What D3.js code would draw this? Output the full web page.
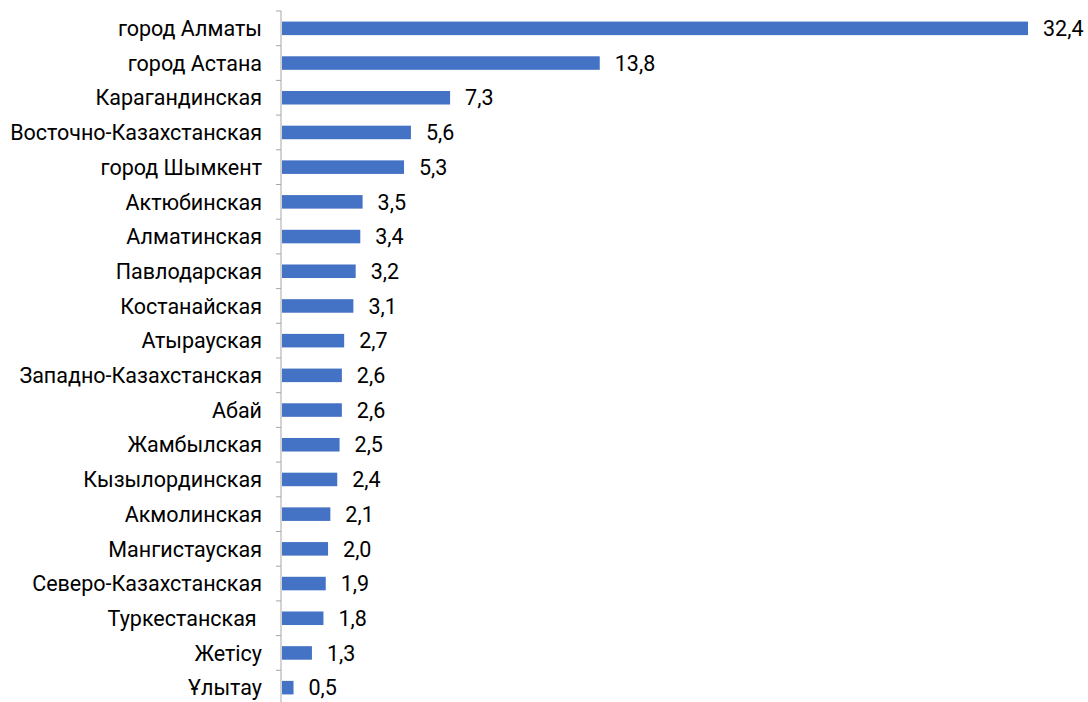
<!DOCTYPE html>
<html>
<head>
<meta charset="utf-8">
<script src="https://cdn.jsdelivr.net/npm/d3@7"></script>
<style>
  body { margin: 0; background: #fff; }
  text { font-family: Roboto, "Noto Sans", sans-serif; fill: #000; white-space: pre; }
</style>
</head>
<body>
<div id="chart"></div>
<script>
// regions and their values
var regions = ["город Алматы", "город Астана", "Карагандинская", "Восточно-Казахстанская",
    "город Шымкент", "Актюбинская", "Алматинская", "Павлодарская", "Костанайская",
    "Атырауская", "Западно-Казахстанская", "Абай", "Жамбылская", "Кызылординская",
    "Акмолинская", "Мангистауская", "Северо-Казахстанская", "Туркестанская ", "Жетісу", "Ұлытау"];
var values = [32.4, 13.8, 7.3, 5.6, 5.3, 3.5, 3.4, 3.2, 3.1, 2.7, 2.6, 2.6, 2.5, 2.4, 2.1, 2.0, 1.9, 1.8, 1.3, 0.5];

var divWidth = 1088, divHeight = 702;
var margin = {top: 11, left: 282};
var bandH = 34.7;
var fontSize = "21.5px";

var svg = d3.select("#chart").append("svg")
    .attr("width", divWidth).attr("height", divHeight);

var data = regions.map(function(r, i) { return {name: r, value: values[i]}; });

var x = d3.scaleLinear().domain([0, 32.4]).range([0, 746]);
var y = d3.scaleBand()
    .domain(regions)
    .range([0, bandH * regions.length])
    .paddingInner(0.61).paddingOuter(0.305);

var g = svg.append("g")
    .attr("transform", "translate(" + margin.left + "," + margin.top + ")");

g.selectAll(".bar")
    .data(data)
  .enter().append("rect")
    .attr("class", "bar")
    .attr("x", 0)
    .attr("y", function(d) { return y(d.name); })
    .attr("width", function(d) { return x(d.value); })
    .attr("height", y.bandwidth())
    .attr("fill", "#4472c4");

g.selectAll(".val")
    .data(data)
  .enter().append("text")
    .attr("class", "val")
    .attr("x", function(d) { return x(d.value) + 15; })
    .attr("y", function(d) { return y(d.name) + y.bandwidth() / 2; })
    .attr("dy", "0.36em")
    .style("font-size", fontSize)
    .text(function(d) { return d3.format(".1f")(d.value).replace(".", ","); });

// category axis with ticks between bands
var axis = g.append("g").attr("transform", "translate(-1,0)");
axis.append("line")
    .attr("x1", 0).attr("x2", 0)
    .attr("y1", 0).attr("y2", bandH * regions.length)
    .attr("stroke", "#a6a6a6").attr("stroke-width", 1);

axis.selectAll(".tick")
    .data(d3.range(regions.length + 1))
  .enter().append("line")
    .attr("class", "tick")
    .attr("x1", -5).attr("x2", 0)
    .attr("y1", function(i) { return i * bandH; })
    .attr("y2", function(i) { return i * bandH; })
    .attr("stroke", "#a6a6a6").attr("stroke-width", 1);

axis.selectAll(".lbl")
    .data(data)
  .enter().append("text")
    .attr("class", "lbl")
    .attr("x", -19)
    .attr("y", function(d) { return y(d.name) + y.bandwidth() / 2; })
    .attr("dy", "0.36em")
    .attr("text-anchor", "end")
    .attr("xml:space", "preserve")
    .style("font-size", fontSize)
    .text(function(d) { return d.name; });
</script>
</body>
</html>
